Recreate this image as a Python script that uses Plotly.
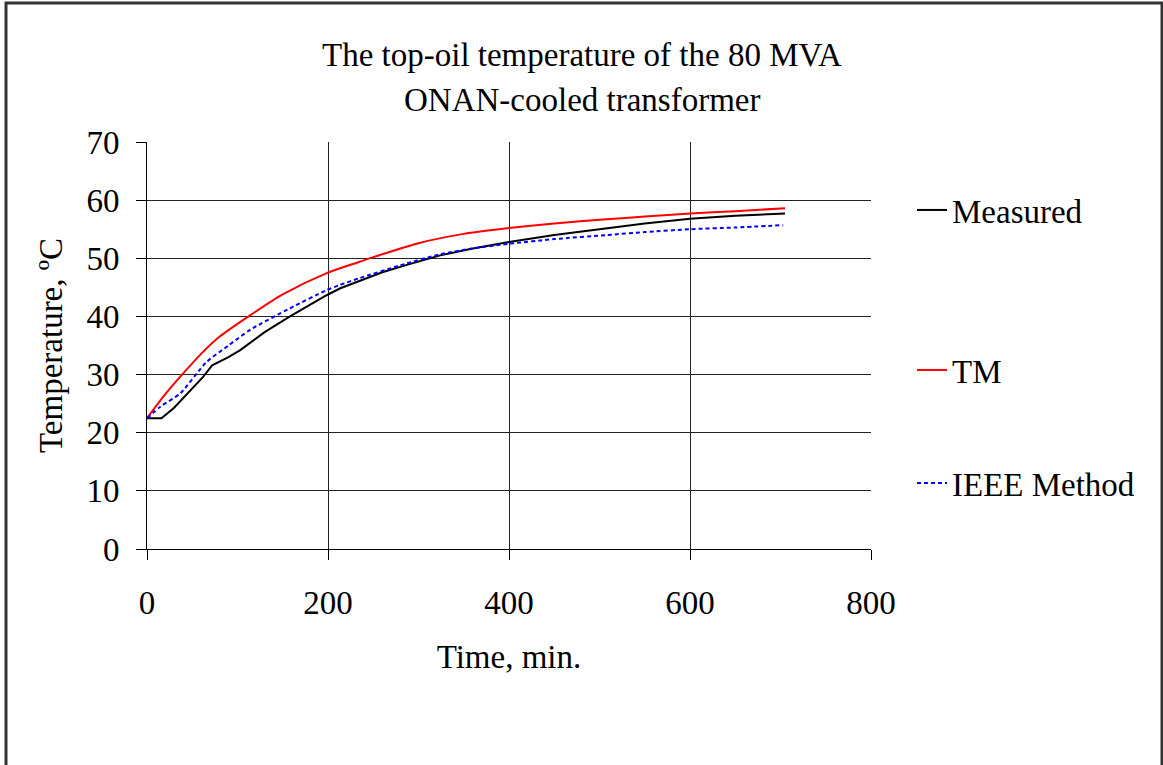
import plotly.graph_objects as go

# Measured top-oil temperature
t_meas = [0, 16, 30, 45, 62, 72, 90, 103, 130, 158, 180, 198, 213, 235, 260, 290, 324, 360, 400, 450, 508, 550, 600, 650, 705]
T_meas = [22.5, 22.5, 24.3, 26.8, 29.6, 31.6, 33.0, 34.2, 37.3, 40.0, 42.0, 43.6, 44.8, 46.1, 47.6, 49.0, 50.5, 51.7, 52.8, 54.0, 55.2, 56.0, 56.8, 57.3, 57.7]

# TM model
t_tm = [0, 20, 40, 60, 80, 114, 150, 198, 235, 250, 300, 350, 400, 450, 508, 550, 600, 650, 705]
T_tm = [22.5, 26.6, 30.2, 33.6, 36.5, 40.2, 43.8, 47.4, 49.4, 50.2, 52.6, 54.2, 55.2, 56.0, 56.7, 57.2, 57.7, 58.1, 58.6]

# IEEE method
t_ieee = [0, 15, 37, 66, 90, 114, 158, 198, 213, 235, 280, 324, 360, 400, 450, 508, 550, 600, 650, 703]
T_ieee = [22.5, 24.5, 26.8, 32.2, 35.0, 37.7, 41.4, 44.5, 45.4, 46.6, 48.8, 50.7, 51.7, 52.5, 53.3, 54.0, 54.5, 55.0, 55.3, 55.7]

x_ticks = [0, 200, 400, 600, 800]
y_ticks = [0, 10, 20, 30, 40, 50, 60, 70]

FONT = "Liberation Serif, Times New Roman, serif"
FS = 33

fig = go.Figure()
fig.add_trace(go.Scatter(x=t_meas, y=T_meas, mode="lines", name="Measured", showlegend=True,
                         line=dict(color="black", width=2), legend="legend"))
fig.add_trace(go.Scatter(x=t_tm, y=T_tm, mode="lines", name="TM", showlegend=True,
                         line=dict(color="red", width=2, shape="spline", smoothing=0.8),
                         legend="legend2"))
fig.add_trace(go.Scatter(x=t_ieee, y=T_ieee, mode="lines", name="IEEE Method", showlegend=True,
                         line=dict(color="blue", width=2, dash="4px,3px", shape="spline", smoothing=0.6),
                         legend="legend3"))

L, R, T, B = 147, 292, 142, 216
W, H = 1163, 765
pw, ph = W - L - R, H - T - B


def px(xpix):
    return (xpix - L) / pw


def py(ypix):
    return (H - B - ypix) / ph


legend_common = dict(font=dict(family=FONT, size=FS, color="black"), bgcolor="rgba(0,0,0,0)",
                     xanchor="left", yanchor="middle", x=px(912), visible=True)

fig.update_layout(
    width=W, height=H,
    showlegend=True,
    margin=dict(l=L, r=R, t=T, b=B, pad=0),
    paper_bgcolor="white", plot_bgcolor="white",
    font=dict(family=FONT, size=FS, color="black"),
    legend=dict(y=py(210), **legend_common),
    legend2=dict(y=py(370), **legend_common),
    legend3=dict(y=py(483), **legend_common),
    xaxis=dict(range=[0, 800], tickvals=x_ticks, ticktext=[str(v) for v in x_ticks],
               showgrid=True, gridcolor="#222", gridwidth=1,
               showline=True, linecolor="black", linewidth=1,
               ticks="outside", ticklen=10, tickcolor="black",
               ticklabelstandoff=14, zeroline=False,
               title=dict(text="Time, min.", standoff=25,
                          font=dict(family=FONT, size=FS))),
    yaxis=dict(range=[0, 70], tickvals=y_ticks, ticktext=[str(v) for v in y_ticks],
               showgrid=True, gridcolor="#222", gridwidth=1,
               showline=True, linecolor="black", linewidth=1,
               ticks="outside", ticklen=10, tickcolor="black",
               ticklabelstandoff=10, zeroline=False,
               title=dict(text="Temperature, ºC", standoff=13,
                          font=dict(family=FONT, size=FS))),
    annotations=[
        dict(text="The top-oil temperature of the 80 MVA", x=px(582), y=py(55),
             xref="paper", yref="paper", showarrow=False, xanchor="center", yanchor="middle",
             font=dict(family=FONT, size=FS, color="black")),
        dict(text="ONAN-cooled transformer", x=px(582), y=py(100),
             xref="paper", yref="paper", showarrow=False, xanchor="center", yanchor="middle",
             font=dict(family=FONT, size=FS, color="black")),
    ],
    shapes=[
        dict(type="rect", xref="paper", yref="paper",
             x0=px(6), x1=px(1162), y0=py(3), y1=py(800),
             line=dict(color="#333", width=3), fillcolor="rgba(0,0,0,0)", layer="below"),
    ],
)

fig.write_html("out.html")
